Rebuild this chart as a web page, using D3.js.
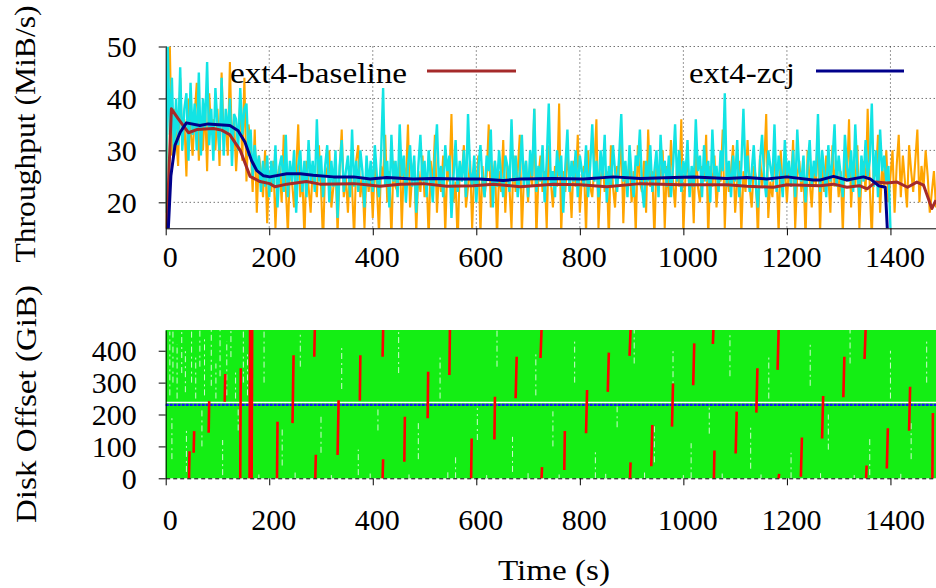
<!doctype html>
<html>
<head>
<meta charset="UTF-8">
<title>Throughput and disk offset</title>
<script src="https://d3js.org/d3.v7.min.js"></script>
<style>
	body { margin: 0; background: #fff; }
	text { font-family: "Liberation Serif", "Times New Roman", serif; fill: #000; }
</style>
</head>
<body>
<script>

	// ---- data ----
	var timeTicks = [0, 200, 400, 600, 800, 1000, 1200, 1400];
	var throughputTicks = [20, 30, 40, 50];
	var offsetTicks = [0, 100, 200, 300, 400];

	// raw throughput samples, one every 4 s
	var rawStep = 4;
	var baselineRaw = (
		"15 42 50 29 38 33 27 44 31 36 25 40 34 29 37 43 28 35 30 39 26 41 33 36 30 " +
		"38 27 45 32 35 29 47 30 36 26 33 39 28 44 24 35 31 22 34 18 29 26 21 30 16 " +
		"26 22 28 15 25 27 20 33 23 14 27 24 19 26 35 21 25 13 28 23 18 27 24 21 31 " +
		"23 12 27 25 30 19 23 28 14 26 34 21 25 18 27 23 13 28 31 21 25 15 27 22 26 " +
		"17 28 23 14 27 25 33 20 26 13 28 23 22 31 15 27 24 35 19 25 28 14 26 22 29 " +
		"21 25 13 28 23 33 18 26 22 29 14 27 24 37 20 24 12 27 25 31 19 23 28 15 26 " +
		"23 29 14 27 21 25 35 19 24 28 13 26 22 32 18 27 23 15 29 22 26 33 14 25 28 " +
		"20 27 23 38 13 25 29 22 26 15 31 24 19 27 23 39 14 26 22 29 25 17 28 23 33 " +
		"18 25 27 14 30 23 21 27 36 15 24 28 22 26 13 31 23 19 27 25 33 16 27 23 29 " +
		"20 26 14 31 24 22 28 18 34 23 26 13 28 23 25 30 15 27 21 32 24 19 28 23 36 " +
		"14 25 28 22 26 16 31 23 20 27 24 33 13 27 23 29 19 25 24 34 15 27 22 26 31 " +
		"18 24 28 14 26 22 32 23 19 27 25 13 29 23 27 37 17 24 21 28 26 14 30 23 27 " +
		"20 27 23 32 15 25 28 22 26 13 30 24 19 27 23 35 14 27 22 29 25 18 31 23 28 " +
		"21 26 14 29 24 36 19 27 23 31 15 25 28 22 38 23 13 28 25 33 18 27 23 30 20 " +
		"25 30 18 27 33 21 29 24 19 31 26 22 28 34 20 27 23 30 25 18 22 26 19"
	).split(" ").map(Number);

	var zcjRaw = (
		"18 50 33 44 29 40 31 46 30 38 41 28 43 33 39 30 45 29 40 34 47 31 38 28 42 " +
		"35 30 44 29 38 33 40 27 37 36 30 42 33 38 39 29 34 25 31 26 29 22 28 23 29 " +
		"21 28 23 31 19 27 29 22 33 21 28 24 30 18 27 30 22 28 21 32 24 28 22 36 24 " +
		"29 21 27 31 20 28 23 30 17 27 32 22 26 29 21 34 23 28 22 30 26 19 29 23 28 " +
		"22 31 25 21 29 42 23 28 19 33 24 28 21 35 25 29 20 27 31 23 29 18 27 33 24 " +
		"28 21 30 25 20 29 35 23 27 21 31 26 29 17 25 32 22 28 24 30 21 37 26 23 29 " +
		"20 27 31 24 21 29 26 34 19 28 23 30 25 21 29 27 22 36 24 29 21 26 33 23 28 " +
		"21 30 25 38 22 27 24 31 20 28 39 23 26 21 30 25 29 18 27 34 22 28 24 30 21 " +
		"29 26 23 31 21 27 35 24 28 21 30 25 33 20 27 23 31 26 22 29 37 24 28 21 31 " +
		"25 21 29 27 34 23 19 28 24 31 22 26 30 21 33 25 28 23 29 21 27 35 24 30 22 " +
		"28 25 32 21 27 23 36 26 29 21 31 24 28 20 34 25 27 22 30 26 41 23 28 21 29 " +
		"24 32 21 27 38 25 29 22 26 31 23 19 28 33 25 21 30 27 24 35 22 29 26 21 32 " +
		"25 28 23 30 21 34 26 24 29 20 27 32 23 28 25 37 22 30 26 21 31 24 28 35 23 " +
		"29 25 21 33 27 24 30 22 35 26 21 29 24 32 25 28 39 23 30 21 34 26 29 24 27 " +
		"15"
	).split(" ").map(Number);

	// smoothed throughput [time, MiB/s]
	var baselineSmooth = [
		[2, 14.8], [11, 38.0], [24, 36.1], [44, 33.4], [60, 34.0], [92, 34.2], [108, 33.9],
		[124, 33.0], [144, 30.0], [163, 25.0], [182, 24.0], [201, 23.6], [211, 23.0], [234, 23.5],
		[272, 24.0], [298, 23.5], [363, 23.6], [388, 23.4], [414, 23.1], [453, 23.5], [498, 23.6],
		[543, 23.1], [594, 23.2], [633, 23.5], [685, 23.0], [749, 23.5], [801, 23.4], [852, 23.0],
		[917, 23.6], [994, 23.4], [1020, 23.4], [1084, 23.4], [1123, 23.1], [1174, 22.9], [1200, 23.4],
		[1264, 23.2], [1290, 23.5], [1316, 22.9], [1340, 23.2], [1355, 22.6], [1371, 23.9], [1393, 23.7],
		[1413, 23.9], [1433, 22.9], [1451, 23.9], [1464, 23.3], [1480, 18.8], [1488, 20.4]
	];
	var zcjSmooth = [
		[5, 14.8], [10, 25.1], [18, 31.0], [28, 33.5], [40, 35.3], [66, 34.8], [82, 35.1],
		[124, 34.8], [140, 33.8], [153, 31.6], [166, 28.0], [176, 26.1], [189, 25.1], [201, 24.9],
		[234, 25.5], [260, 25.5], [285, 25.2], [324, 24.9], [363, 24.9], [395, 24.5], [427, 24.8],
		[478, 24.5], [517, 24.6], [569, 24.5], [607, 24.5], [652, 24.2], [685, 24.5], [749, 24.6],
		[807, 24.5], [865, 24.9], [917, 24.6], [981, 24.8], [1020, 24.9], [1084, 24.6], [1123, 24.8],
		[1161, 24.5], [1200, 24.9], [1251, 24.3], [1264, 24.3], [1290, 25.0], [1316, 24.3], [1348, 24.9],
		[1361, 24.5], [1377, 23.2], [1390, 22.9], [1394, 14.8]
	];

	// disk offset panel
	var offsetSpan = [0, 1488, 0, 465];	// region covered by the random writes [t0, t1, lo, hi]
	var journalOffset = 230;
	// sequential streams [t0, t1, lo GiB, hi GiB]
	var seqStreams = [
		[45, 46, 0, 85], [54, 55, 80, 148], [83, 84, 143, 242], [114, 115, 240, 327], [144, 145, 0, 345],
		[162, 163, 0, 465], [166, 167, 0, 465], [215, 216, 0, 177], [245, 247, 173, 386], [287, 288, 381, 465],
		[289, 290, 0, 74], [332, 334, 73, 245], [375, 376, 243, 386], [419, 420, 381, 465], [419, 420, 0, 60],
		[461, 462, 52, 193], [506, 507, 188, 334], [548, 549, 324, 465], [590, 591, 0, 125], [635, 636, 122, 256],
		[676, 678, 251, 381], [724, 726, 377, 465], [726, 727, 0, 35], [770, 771, 26, 148], [812, 814, 141, 277],
		[854, 856, 271, 394], [896, 898, 384, 465], [897, 898, 0, 50], [938, 940, 38, 167], [978, 980, 162, 297],
		[1019, 1021, 292, 423], [1057, 1058, 421, 465], [1059, 1060, 0, 87], [1101, 1103, 78, 209], [1141, 1143, 206, 345],
		[1182, 1184, 340, 465], [1184, 1185, 0, 14], [1227, 1229, 5, 128], [1268, 1270, 125, 258], [1309, 1311, 254, 381],
		[1350, 1352, 374, 465], [1353, 1354, 0, 40], [1393, 1395, 31, 157], [1436, 1438, 149, 287], [1481, 1482, 0, 205]
	];
	// gaps between the random writes [t, lo, hi]
	var writeGaps = [
		[8, 260, 460], [14, 300, 465], [22, 250, 420], [31, 330, 465], [38, 270, 400], [50, 300, 465],
		[58, 250, 380], [66, 350, 465], [75, 260, 440], [88, 290, 465], [97, 250, 360], [105, 320, 465],
		[118, 260, 430], [126, 380, 465], [135, 250, 340], [150, 300, 465], [158, 260, 400],
		[12, 60, 200], [40, 20, 150], [70, 100, 220], [110, 10, 120], [140, 150, 225],
		[190, 300, 460], [225, 40, 160], [260, 350, 450], [300, 80, 200], [340, 280, 420], [372, 10, 90],
		[410, 150, 225], [450, 330, 460], [488, 60, 180], [530, 250, 380], [560, 0, 70], [602, 120, 220],
		[640, 350, 465], [670, 20, 130], [715, 260, 400], [748, 100, 210], [790, 300, 440], [830, 0, 90],
		[872, 160, 225], [905, 360, 465], [944, 50, 170], [980, 270, 410], [1015, 0, 110], [1050, 140, 230],
		[1090, 320, 450], [1130, 30, 160], [1165, 250, 380], [1208, 0, 80], [1245, 290, 430], [1280, 90, 200],
		[1322, 360, 465], [1360, 10, 130], [1400, 250, 400], [1440, 60, 180], [1470, 300, 440],
		[180, 0, 12], [250, 0, 18], [320, 0, 10], [395, 0, 15], [470, 0, 12], [545, 0, 20], [620, 0, 10],
		[700, 0, 16], [760, 0, 12], [850, 0, 14], [925, 0, 18], [1000, 0, 10], [1075, 0, 15], [1150, 0, 12],
		[1265, 0, 16], [1330, 0, 10], [1420, 0, 14]
	];

	var legendLabels = ["ext4-baseline", "ext4-zcj"];

	// ---- layout ----
	var width = 936, height = 588;
	var svg = d3.select("body").append("svg")
		.attr("width", width)
		.attr("height", height);

	var x = d3.scaleLinear().domain([0, 1488]).range([165.7, 936]);
	var yTop = d3.scaleLinear().domain([15, 50]).range([228.3, 46.5]);
	var yBot = d3.scaleLinear().domain([0, 465]).range([478.3, 330]);

	var defs = svg.append("defs");
	defs.append("clipPath").attr("id", "clipTop")
		.append("rect")
		.attr("x", x.range()[0]).attr("y", yTop.range()[1])
		.attr("width", x.range()[1] - x.range()[0])
		.attr("height", yTop.range()[0] - yTop.range()[1]);

	// stretch a text to the width it has in the figure
	function fitText(sel, len) {
		sel.attr("textLength", len).attr("lengthAdjust", "spacingAndGlyphs");
	}

	// ---- top panel: throughput ----
	var topPanel = svg.append("g");

	// dotted grid
	topPanel.append("g").selectAll("line")
		.data(throughputTicks)
		.enter().append("line")
			.attr("x1", x.range()[0]).attr("x2", x.range()[1])
			.attr("y1", function(d) { return yTop(d); })
			.attr("y2", function(d) { return yTop(d); })
			.attr("stroke", "#333").attr("stroke-width", 1)
			.attr("stroke-dasharray", "1,3");
	topPanel.append("g").selectAll("line")
		.data(timeTicks.slice(1))
		.enter().append("line")
			.attr("x1", function(d) { return x(d); })
			.attr("x2", function(d) { return x(d); })
			.attr("y1", yTop.range()[1]).attr("y2", yTop.range()[0])
			.attr("stroke", "#333").attr("stroke-width", 1)
			.attr("stroke-dasharray", "1,3");

	var rawLine = d3.line()
		.x(function(d, i) { return x(i * rawStep); })
		.y(function(d) { return yTop(d); });
	var smoothLine = d3.line()
		.x(function(d) { return x(d[0]); })
		.y(function(d) { return yTop(d[1]); });

	var plot = topPanel.append("g").attr("clip-path", "url(#clipTop)");

	plot.append("path")
		.attr("d", rawLine(baselineRaw))
		.attr("fill", "none").attr("stroke", "#ffa500").attr("stroke-width", 2.1);
	plot.append("path")
		.attr("d", rawLine(zcjRaw))
		.attr("fill", "none").attr("stroke", "#12e4e4").attr("stroke-width", 2.4);
	plot.append("path")
		.attr("d", smoothLine(baselineSmooth))
		.attr("fill", "none").attr("stroke", "#a52a2a").attr("stroke-width", 3)
		.attr("stroke-linejoin", "round");
	plot.append("path")
		.attr("d", smoothLine(zcjSmooth))
		.attr("fill", "none").attr("stroke", "#00008b").attr("stroke-width", 3)
		.attr("stroke-linejoin", "round");

	// axes
	var yAxisTop = topPanel.append("g")
		.attr("transform", "translate(" + x.range()[0] + ",0)")
		.call(d3.axisLeft(yTop).tickValues(throughputTicks).tickSize(7).tickSizeOuter(0).tickPadding(22));
	var xAxisTop = topPanel.append("g")
		.attr("transform", "translate(0," + yTop.range()[0] + ")")
		.call(d3.axisBottom(x).tickValues(timeTicks).tickSize(7).tickSizeOuter(0).tickFormat(d3.format("d")));
	xAxisTop.selectAll(".tick text").attr("y", 39).attr("dy", null).attr("x", 4);

	// legend
	var legendColors = ["#a52a2a", "#00008b"];
	var legendText = [230, 689];
	var legendWidth = [177, 106];
	var legendLine = [[427, 516], [816, 904]];
	var legend = topPanel.append("g").selectAll("g")
		.data(legendLabels)
		.enter().append("g");
	legend.append("text")
		.attr("x", function(d, i) { return legendText[i]; })
		.attr("y", 83)
		.attr("font-size", 30)
		.text(function(d) { return d; })
		.each(function(d, i) { fitText(d3.select(this), legendWidth[i]); });
	legend.append("line")
		.attr("x1", function(d, i) { return legendLine[i][0]; })
		.attr("x2", function(d, i) { return legendLine[i][1]; })
		.attr("y1", 71).attr("y2", 71)
		.attr("stroke", function(d, i) { return legendColors[i]; })
		.attr("stroke-width", 3);

	// ---- bottom panel: disk offset ----
	var botPanel = svg.append("g");

	botPanel.append("rect")
		.attr("x", x(offsetSpan[0]))
		.attr("y", yBot(offsetSpan[3]))
		.attr("width", x(offsetSpan[1]) - x(offsetSpan[0]))
		.attr("height", yBot(offsetSpan[2]) - yBot(offsetSpan[3]))
		.attr("fill", "#14ee14");

	botPanel.append("g").selectAll("line")
		.data(writeGaps)
		.enter().append("line")
			.attr("x1", function(d) { return x(d[0]); })
			.attr("x2", function(d) { return x(d[0]); })
			.attr("y1", function(d) { return yBot(d[1]); })
			.attr("y2", function(d) { return yBot(d[2]); })
			.attr("stroke", "#fff").attr("stroke-width", 0.8)
			.attr("stroke-dasharray", "6,3,2,4");

	// journal area
	botPanel.append("line")
		.attr("x1", x(offsetSpan[0])).attr("x2", x(offsetSpan[1]))
		.attr("y1", yBot(journalOffset + 8)).attr("y2", yBot(journalOffset + 8))
		.attr("stroke", "#fff").attr("stroke-width", 1.5);
	botPanel.append("line")
		.attr("x1", x(offsetSpan[0])).attr("x2", x(offsetSpan[1]))
		.attr("y1", yBot(journalOffset)).attr("y2", yBot(journalOffset))
		.attr("stroke", "#1010ff").attr("stroke-width", 2.2)
		.attr("stroke-dasharray", "3,1");

	botPanel.append("g").selectAll("line")
		.data(seqStreams)
		.enter().append("line")
			.attr("x1", function(d) { return x(d[0]); })
			.attr("x2", function(d) { return x(d[1]); })
			.attr("y1", function(d) { return yBot(d[2]); })
			.attr("y2", function(d) { return yBot(d[3]); })
			.attr("stroke", "#ff0000").attr("stroke-width", 2.6);

	var yAxisBot = botPanel.append("g")
		.attr("transform", "translate(" + x.range()[0] + ",0)")
		.call(d3.axisLeft(yBot).tickValues(offsetTicks).tickSize(7).tickSizeOuter(0).tickPadding(22));
	var xAxisBot = botPanel.append("g")
		.attr("transform", "translate(0," + yBot.range()[0] + ")")
		.call(d3.axisBottom(x).tickValues(timeTicks).tickSize(7).tickSizeOuter(0).tickFormat(d3.format("d")));
	xAxisBot.selectAll(".tick text").attr("y", 52).attr("dy", null).attr("x", 4);
	xAxisBot.select(".domain").attr("stroke-dasharray", "4,3");

	// common axis styling
	svg.selectAll(".tick text")
		.attr("font-family", "Liberation Serif, serif")
		.attr("font-size", 30)
		.attr("fill", "#000");
	svg.selectAll(".tick line").attr("stroke", "#000");
	svg.selectAll(".domain").attr("stroke", "#000");
	yAxisTop.selectAll(".tick text").attr("dy", "0.33em");
	yAxisBot.selectAll(".tick text").attr("dy", "0.33em");

	// axis titles
	svg.append("text")
		.attr("transform", "translate(35,134) rotate(-90)")
		.attr("text-anchor", "middle")
		.attr("font-size", 30)
		.text("Throughput (MiB/s)")
		.call(fitText, 257);
	svg.append("text")
		.attr("transform", "translate(36,404) rotate(-90)")
		.attr("text-anchor", "middle")
		.attr("font-size", 30)
		.text("Disk Offset (GiB)")
		.call(fitText, 238);
	svg.append("text")
		.attr("x", 554).attr("y", 580)
		.attr("text-anchor", "middle")
		.attr("font-size", 30)
		.text("Time (s)")
		.call(fitText, 112);

</script>
</body>
</html>
